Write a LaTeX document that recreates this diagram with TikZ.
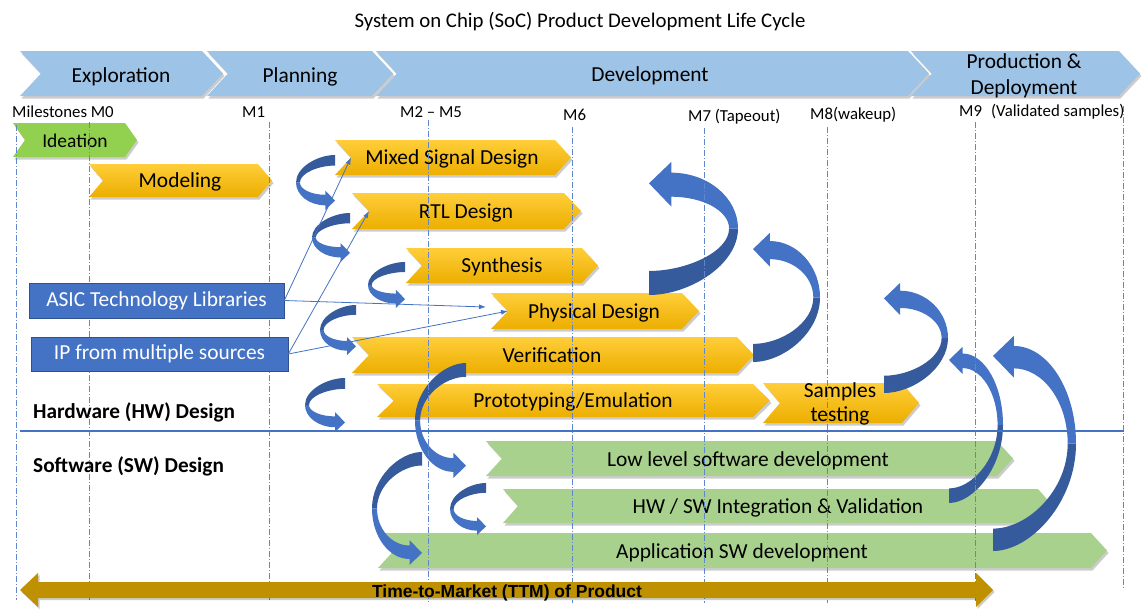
\documentclass[tikz,border=0pt]{standalone}
\usepackage{fontspec}
\setmainfont{Carlito}
\newfontfamily\ttmfont{Liberation Sans}
\usetikzlibrary{arrows.meta}

\definecolor{phaseblue}{HTML}{9DC3E6}
\definecolor{gold1}{HTML}{FFCE3A}
\definecolor{gold2}{HTML}{ECAE00}
\definecolor{ideagreen}{HTML}{92D050}
\definecolor{swgreen}{HTML}{A9D18E}
\definecolor{accent}{HTML}{4472C4}
\definecolor{accentdark}{HTML}{355B9D}
\definecolor{boxedge}{HTML}{2F528F}
\definecolor{ttmgold}{HTML}{BF9000}

% chevron band: left, right, top, bottom, point depth, fill style
\newcommand\chev[6]{%
  \fill[black,opacity=0.2,shift={(1.5,2.5)}] (#1,#3) -- (#2,#3) -- ({#2+#5},{(#3+#4)/2}) -- (#2,#4) -- (#1,#4) -- ({#1+#5},{(#3+#4)/2}) -- cycle;
  \path[#6] (#1,#3) -- (#2,#3) -- ({#2+#5},{(#3+#4)/2}) -- (#2,#4) -- (#1,#4) -- ({#1+#5},{(#3+#4)/2}) -- cycle;%
}

% curved ribbon arrow of width #1 and height #2, drawn at the origin:
% head at the top left pointing left, tail at the bottom left, bulging right
\newcommand\ribbon[2]{%
  \pgfmathsetmacro\rW{#1}%
  \pgfmathsetmacro\rH{#2}%
  \pgfmathsetmacro\rM{0.5*#2}%
  \pgfmathsetmacro\rD{0.25*#1}%
  \pgfmathsetmacro\rT{#2-0.27*#1}%
  \fill[ribback] (\rW,\rM) .. controls (\rW,{\rM+0.55*(\rH-\rM)}) and ({0.45*\rW},\rH) .. (0,\rH)
     -- (0,\rT) .. controls ({0.42*\rW},\rT) and ({0.9*\rW},{\rM+0.55*(\rT-\rM)}) .. ({0.9*\rW},\rM) -- cycle;
  \fill[ribfront] (\rD,{0.12*\rW}) .. controls ({\rD+0.55*(\rW-\rD)},{0.12*\rW}) and (\rW,{\rM-0.55*(\rM-0.12*\rW)}) .. (\rW,\rM)
     -- ({0.9*\rW},\rM) .. controls ({0.9*\rW},{\rM-0.55*(\rM-0.39*\rW)}) and ({\rD+0.55*(0.9*\rW-\rD)},{0.39*\rW}) .. (\rD,{0.39*\rW})
     -- (\rD,{0.5*\rW}) -- (0,{0.24*\rW}) -- (\rD,0) -- cycle;%
}

\begin{document}
\begin{tikzpicture}[x=1pt,y=-1pt,
  txt/.style={anchor=base, inner sep=0pt, font=\fontsize{21.4pt}{25pt}\selectfont},
  mile/.style={anchor=base west, inner sep=0pt, font=\fontsize{16.8pt}{20pt}\selectfont},
  lane/.style={anchor=base west, inner sep=0pt, font=\fontsize{21.3pt}{24pt}\selectfont\bfseries},
  phasefill/.style={fill=phaseblue},
  goldfill/.style={top color=gold1, bottom color=gold2},
  ideafill/.style={fill=ideagreen},
  swfill/.style={fill=swgreen},
  ribfront/.style={fill=accent},
  ribback/.style={fill=accentdark},
  srcbox/.style={draw=boxedge, line width=0.6pt, fill=accent, text=white, inner sep=0pt,
    font=\fontsize{21.4pt}{24pt}\selectfont},
  link/.style={draw=accent, line width=0.8pt, -{Latex[length=7pt,width=5pt]}},
  guide/.style={draw=accent!85, line width=0.7pt, dash pattern=on 6pt off 2pt on 1pt off 2pt},
]
\useasboundingbox (0,0) rectangle (1141,608);
\fill[white] (0,0) rectangle (1141,608);

% title
\node[txt, font=\fontsize{20.8pt}{24pt}\selectfont] (title) at (580,27) {System on Chip (SoC) Product Development Life Cycle};

% phases
\chev{20}{202}{51}{96}{21}{phasefill}
\chev{207}{372}{51}{96}{21}{phasefill}
\chev{376}{908}{51}{96}{21}{phasefill}
\chev{911}{1119}{51}{96}{21}{phasefill}
\node[txt] (ph1) at (121,82) {Exploration};
\node[txt] (ph2) at (300,82) {Planning};
\node[txt] (ph3) at (650,81) {Development};
\node[txt] (ph4a) at (1024,68) {Production \&};
\node[txt] (ph4b) at (1024,94) {Deployment};

% milestones
\node[mile] (m0) at (12,117) {Milestones M0};
\node[mile] (m1) at (242,117) {M1};
\node[mile] (m2) at (400,117) {M2 – M5};
\node[mile] (m6) at (563,120) {M6};
\node[mile] (m7) at (688,121) {M7 (Tapeout)};
\node[mile] (m8) at (810,119) {M8(wakeup)};
\node[mile] (m9) at (959,116) {M9\hspace{9pt}(Validated samples)};

% hardware activities
\chev{13}{125}{123}{157}{12}{ideafill}
\node[txt, font=\fontsize{19.5pt}{23pt}\selectfont] (idea) at (75,147) {Ideation};
\chev{89}{258}{164}{197}{14}{goldfill}
\node[txt] (model) at (180,187) {Modeling};
\chev{335}{555}{140}{175}{16}{goldfill}
\node[txt] (msd) at (452,164.5) {Mixed Signal Design};
\chev{352}{564}{193}{229}{17}{goldfill}
\node[txt] (rtl) at (466,218) {RTL Design};
\chev{406}{582}{248}{283}{16}{goldfill}
\node[txt] (syn) at (502,272.5) {Synthesis};
\chev{491}{682}{293}{329}{17}{goldfill}
\node[txt] (phys) at (594,318) {Physical Design};
\chev{352}{737}{337}{373}{17}{goldfill}
\node[txt] (verif) at (552,362) {Verification};
\chev{377}{753}{384}{417}{17}{goldfill}
\node[txt] (proto) at (573,407.5) {Prototyping/Emulation};
\chev{763}{902}{383}{423}{17}{goldfill}
\node[txt] (samp1) at (840,397) {Samples};
\node[txt] (samp2) at (840,421) {testing};

% software activities
\chev{486}{997}{441}{476}{16}{swfill}
\node[txt] (llsw) at (748,466) {Low level software development};
\chev{503}{1038}{489}{523}{15}{swfill}
\node[txt] (hwsw) at (778,513) {HW / SW Integration \& Validation};
\chev{378}{1091}{533}{568}{16}{swfill}
\node[txt] (appsw) at (742,558) {Application SW development};

% hand-over arrows curving left (tail at top, head at bottom right)
\foreach \X/\Y/\W/\H in {335/210/39/55, 350/262/38/49, 405/308/37/46, 356/355/36/50,
    345/432/40/54, 466/478/51/115, 422/565/50/113, 486/535/36/52}{
  \begin{scope}[shift={(\X,\Y)}, xscale=-1, yscale=-1]
    \ribbon{\W}{\H}
  \end{scope}
}
% feedback arrows curving right (tail at bottom, head at top left)
\foreach \X/\Y/\W/\H in {649/162/89/133, 753/233/67/129, 884/283/64/110,
    949/347/54/156, 993/336/83/215}{
  \begin{scope}[shift={(\X,\Y)}]
    \ribbon{\W}{\H}
  \end{scope}
}

% milestone guides
\foreach \x/\a/\b in {16/125/600, 89/122/600, 269/122/600, 428/120/603, 572/127/603,
    704/128/603, 827/127/603, 975/122/603, 1123/106/590}{
  \draw[guide] (\x,\a) -- (\x,\b);
}

% inputs
\node[srcbox, minimum width=255pt, minimum height=35pt] (asic) at (156.5,300.5) {ASIC Technology Libraries};
\node[srcbox, minimum width=257pt, minimum height=34pt] (ip) at (159.5,354) {IP from multiple sources};
\coordinate (msd-in) at (351,157.5);
\coordinate (rtl-in) at (369,211);
\coordinate (phys-in) at (508,311);
\coordinate (phys-near) at (486,307);
\draw[link] (asic.east) -- (msd-in);
\draw[link] (asic.east) -- (phys-near);
\draw[link] (ip.east) -- (rtl-in);
\draw[link] (ip.east) -- (phys-in);

% HW / SW split
\draw[accent, line width=2pt] (20,431) -- (1124,431);
\node[lane] (hwlane) at (33,418) {Hardware (HW) Design};
\node[lane] (swlane) at (33,472) {Software (SW) Design};

% time to market
\fill[black,opacity=0.2,shift={(1.5,2)}] (20,590) -- (38,573) -- (38,582) -- (976,582) -- (976,573) -- (993,590) -- (976,607) -- (976,598) -- (38,598) -- (38,607) -- cycle;
\fill[ttmgold] (20,590) -- (38,573) -- (38,582) -- (976,582) -- (976,573) -- (993,590) -- (976,607) -- (976,598) -- (38,598) -- (38,607) -- cycle;
\node[anchor=base, inner sep=0pt, font=\fontsize{17.5pt}{21pt}\ttmfont\bfseries] (ttm) at (507,597) {Time-to-Market (TTM) of Product};
\end{tikzpicture}
\end{document}
